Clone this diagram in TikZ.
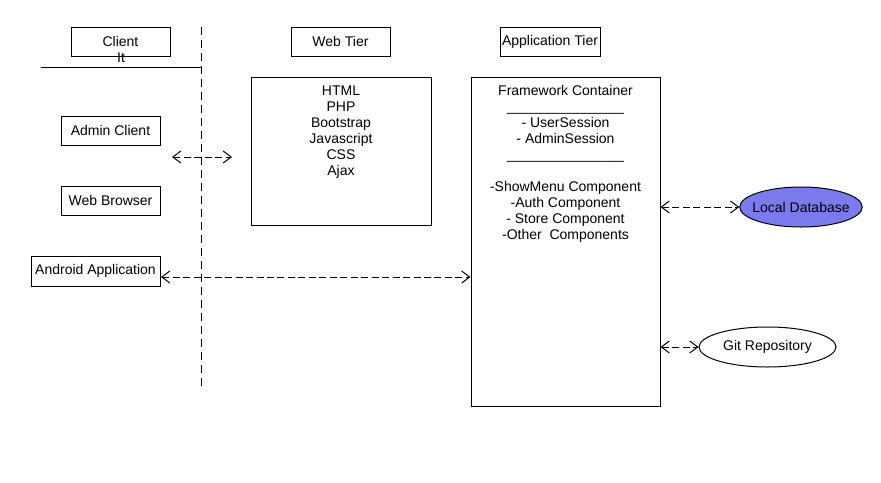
\documentclass[tikz,border=0pt]{standalone}
\usepackage{fontspec}
\setmainfont{Liberation Sans}
\usepackage{xcolor}
\usepackage{tikz}
\usetikzlibrary{positioning,arrows.meta,shapes.geometric,calc}

\definecolor{dbfill}{RGB}{123,123,238}

\begin{document}
\begin{tikzpicture}[
  x=0.75pt, y=-0.75pt,
  font=\fontsize{10.5}{12}\selectfont,
  every node/.style={inner sep=0pt},
  tierbox/.style={rectangle, draw, line width=0.75pt, minimum height=21.75pt, minimum width=74.25pt},
  bigbox/.style={rectangle, draw, line width=0.75pt},
  store/.style={ellipse, draw, line width=0.75pt, minimum height=30pt},
  link/.style={{Straight Barb[length=6pt,width=9pt]}-{Straight Barb[length=6pt,width=9pt]}, line width=0.75pt, dash pattern=on 5.25pt off 2.6pt},
  border/.style={line width=0.75pt, dash pattern=on 6pt off 3.75pt}
  ]
  \useasboundingbox (0,0) rectangle (881,482);
  % tier headers
  \node[tierbox] (client) at (120.5,41.5) {Client};
  \node[tierbox] (webtier) at (340.5,41.5) {Web Tier};
  \node[tierbox, minimum width=75pt] (apptier) at (550,41.5) {Application Tier};
  \node (it) at (121,58) {It};
  \draw[line width=0.75pt] (41,67) coordinate (lineL) -- (201,67) coordinate (lineR);
  \draw[border] (201,27) coordinate (bordT) -- (201,388) coordinate (bordB);
  % clients
  \node[tierbox] (admin) at (110.5,130.5) {Admin Client};
  \node[tierbox] (browser) at (110.5,200.5) {Web Browser};
  \node[tierbox, minimum width=96.75pt, minimum height=22.5pt] (android) at (95.5,271) {Android Application};
  % web tier
  \node[bigbox, minimum width=135pt, minimum height=111pt] (web) at (341,151) {};
  \node[anchor=north, align=center] (webtxt) at (341,85.5) {HTML\\PHP\\Bootstrap\\Javascript\\CSS\\Ajax};
  % application tier
  \node[bigbox, minimum width=141.75pt, minimum height=246.75pt] (app) at (565.5,241.5) {};
  \node[anchor=north, align=center] (apptxt) at (565.5,85.5) {Framework Container\\
    \_\_\_\_\_\_\_\_\_\_\_\_\_\_\_\\- UserSession\\- AdminSession\\
    \_\_\_\_\_\_\_\_\_\_\_\_\_\_\_\\~\\
    -ShowMenu Component\\-Auth Component\\- Store Component\\-Other~ Components};
  % data stores
  \node[store, fill=dbfill, minimum width=90pt, inner xsep=-4pt] (localdb) at (801,207) {Local Database};
  \node[store, minimum width=102.75pt] (git) at (767.5,347) {Git Repository};
  % connectors
  \coordinate (adminL) at (172,157);
  \coordinate (adminR) at (232,157);
  \draw[link] (adminL) -- (adminR);
  \coordinate (andr) at (161,277);
  \draw[link] (andr) -- (andr -| app.west);
  \draw[link] (app.east |- localdb) -- (localdb.west);
  \draw[link] (app.east |- git) -- (git.west);
\end{tikzpicture}
\end{document}
